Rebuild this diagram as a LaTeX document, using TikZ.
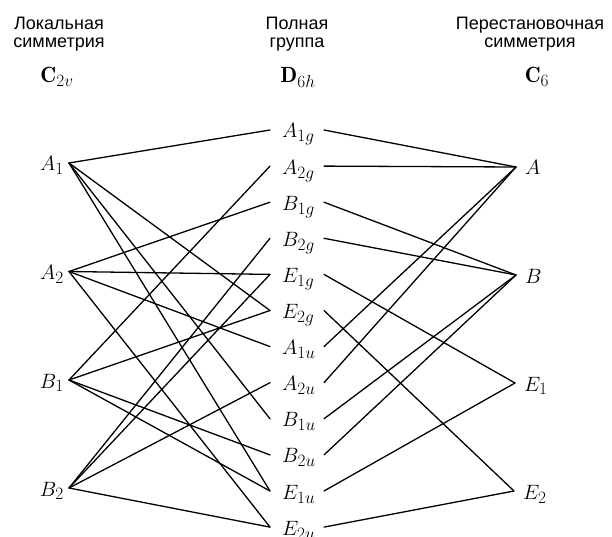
\documentclass[tikz,border=0pt]{standalone}
\usepackage{fontspec}
\setsansfont{Liberation Sans}
\DeclareMathSizes{22}{22}{16}{12}
\begin{document}
\begin{tikzpicture}[x=1pt,y=-1pt,
  hdr/.style={font=\sffamily\fontsize{18}{18}\selectfont, align=center, inner sep=0pt, anchor=north},
  grp/.style={font=\fontsize{22}{26}\selectfont, inner sep=0pt, anchor=base},
  lab/.style={font=\fontsize{22}{26}\selectfont, inner sep=0pt},
  link/.style={line width=1.3pt, line cap=round}]
\path[use as bounding box, fill=white] (0,0) rectangle (612,537);

% headers
\node[hdr] (hL) at (59,17) {Локальная\\симметрия};
\node[hdr] (hC) at (297,17) {Полная\\группа};
\node[hdr] (hR) at (530,17) {Перестановочная\\симметрия};
\node[grp] (gL) at (57,83) {$\mathbf{C}_{2v}$};
\node[grp] (gC) at (298,83) {$\mathbf{D}_{6h}$};
\node[grp] (gR) at (537,83) {$\mathbf{C}_{6}$};

% left column (C2v)
\foreach \n/\t/\yy in {A1/A_1/163, A2/A_2/271.5, B1/B_1/380, B2/B_2/488} {
  \node[lab, anchor=base east] (\n) at (64,\yy+8) {$\t$};
  \coordinate (\n-p) at (69,\yy);
}

% centre column (D6h)
\foreach \n/\t [count=\i from 0] in {A1g/A_{1g}, A2g/A_{2g}, B1g/B_{1g}, B2g/B_{2g}, E1g/E_{1g}, E2g/E_{2g}, A1u/A_{1u}, A2u/A_{2u}, B1u/B_{1u}, B2u/B_{2u}, E1u/E_{1u}, E2u/E_{2u}} {
  \pgfmathsetmacro\yy{130+36.1*\i}
  \node[lab, anchor=base west] (\n) at (282,\yy+8) {$\t$};
  \coordinate (\n-l) at (270,\yy);
  \coordinate (\n-r) at (324,\yy);
}

% right column (C6)
\foreach \n/\t/\xx/\yy in {A/A/516/167, B/B/516/275, E1/E_1/515/383, E2/E_2/514/491} {
  \node[lab, anchor=base west] (\n) at (\xx+9,\yy+8) {$\t$};
  \coordinate (\n-p) at (\xx,\yy);
}

% correlations C2v -- D6h
\foreach \a/\b in {A1/A1g, A1/E2g, A1/B1u, A1/E1u,
                   A2/B1g, A2/E1g, A2/A1u, A2/E2u,
                   B1/A2g, B1/E2g, B1/B2u, B1/E1u,
                   B2/B2g, B2/E1g, B2/A2u, B2/E2u}
  \draw[link] (\a-p) -- (\b-l);

% correlations D6h -- C6
\foreach \a/\b in {A1g/A, A2g/A, A1u/A, A2u/A,
                   B1g/B, B2g/B, B1u/B, B2u/B,
                   E1g/E1, E1u/E1, E2g/E2, E2u/E2}
  \draw[link] (\a-r) -- (\b-p);
\end{tikzpicture}
\end{document}
